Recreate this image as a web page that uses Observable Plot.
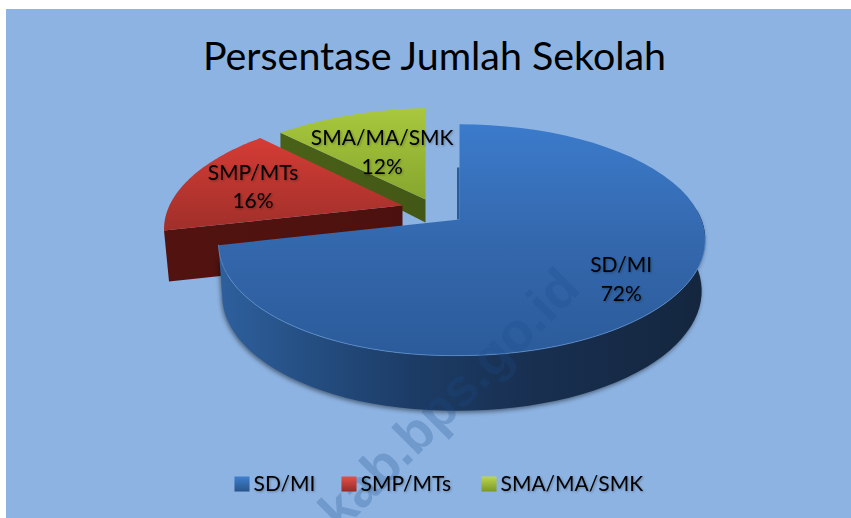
<!DOCTYPE html>
<html>
<head>
<meta charset="utf-8">
<script src="https://cdn.jsdelivr.net/npm/d3@7"></script>
<script src="https://cdn.jsdelivr.net/npm/@observablehq/plot@0.6"></script>
<style>
html,body{margin:0;padding:0;background:#fff}
svg{display:block}
.lab text{filter:drop-shadow(1px 1px 1px rgba(0,0,0,.3))}
.pie{filter:blur(.4px)}
.wall{filter:drop-shadow(-1px 2px 2px rgba(0,0,0,.45))}
</style>
</head>
<body>
<script>
// Data
const categories = ["SD/MI", "SMP/MTs", "SMA/MA/SMK"];
const values = [72, 16, 12];
const titleText = "Persentase Jumlah Sekolah";
const watermarkText = "kab.bps.go.id";

// Layout (pixels)
const W = 851, H = 518;
const apex = [[459, 219], [402, 205], [425, 199]];
const scaleBy = [1, 0.97, 0.96];
const leftX = [0.98, 1, 1.03];
const labelR = [0.79, 0.695, 0.535];
const labelDy = [-4, -1, -1];
const wallH = [55, 51, 23];
const persp = 0.177, radX = 242, radY = 112, shear = 4;

const arcs = d3.pie().sort(null).value(d => d)(values);
const proj = (i, a, r = 1) => {
  const u = Math.sin(a) * r, v = Math.cos(a) * r, den = 1 + persp * v, s = scaleBy[i];
  const left = u < 0 ? -u : 0;
  return [apex[i][0] + s * radX * u / den * (u < 0 ? leftX[i] : 1), apex[i][1] - s * radY * v / den + shear * left];
};
const steps = (a0, a1) => d3.range(0, 61).map(k => a0 + (a1 - a0) * k / 60);
const poly = (id, pts) => pts.map(p => ({id, x: p[0], y: p[1]}));

// Top faces
const face = i => [apex[i], ...steps(arcs[i].startAngle, arcs[i].endAngle).map(a => proj(i, a)), apex[i]];

// Blue outer wall
const drop = (p, i) => {
  const dy = wallH[i] - 8 * (1 - (p[1] - 124) / 230);
  return [apex[i][0] + (p[0] - apex[i][0]) * 0.985, p[1] + dy];
};
const wallTop = steps(Math.PI * 0.47, arcs[0].endAngle).map(a => proj(0, a));
const blueWall = [...wallTop, ...wallTop.slice().reverse().map(p => drop(p, 0))];
const rim = steps(Math.PI * 0.55, arcs[0].endAngle).map(a => proj(0, a));

// Cut faces of the two pulled-out slices
const redA = proj(1, arcs[1].startAngle);
const redWall = [redA, apex[1], [apex[1][0], apex[1][1] + wallH[1]], [redA[0] + 5, redA[1] + wallH[1]]];
const greenA = proj(2, arcs[2].startAngle);
const greenWall = [greenA, apex[2], [apex[2][0], apex[2][1] + wallH[2]], [greenA[0], greenA[1] + 16]];
const blueInner = [apex[0], [apex[0][0] - 2.5, apex[0][1]], [apex[0][0] - 2.5, apex[0][1] - 52], [apex[0][0], apex[0][1] - 52]];

const labels = categories.map((c, i) => {
  const m = (arcs[i].startAngle + arcs[i].endAngle) / 2;
  const p = proj(i, m, labelR[i]);
  return {text: `${c}\n${values[i]}%`, x: p[0], y: p[1] + labelDy[i]};
});

const legendBox = [241.5, 348.5, 488.5];
const legendText = [253, 360, 500];
const legendY = 483.5;

const topFill = ["url(#bt)", "url(#rt)", "url(#gt)"];
const legendFill = ["url(#lb)", "url(#lr)", "url(#lg)"];
const defs = () => {
  const g = document.createElementNS("http://www.w3.org/2000/svg", "g");
  const lin = (id, x2, y2, stops) => `<linearGradient id="${id}" x1="0" y1="0" x2="${x2}" y2="${y2}">` +
    stops.map(s => `<stop offset="${s[0]}" stop-color="${s[1]}"/>`).join("") + `</linearGradient>`;
  g.innerHTML = "<defs>" +
    lin("bt", 0, 1, [[0, "#3b7bcb"], [0.5, "#3468ad"], [1, "#2b5b9a"]]) +
    lin("rt", 0, 1, [[0, "#d53c35"], [1, "#a02f2a"]]) +
    lin("gt", 0, 1, [[0, "#a9c83e"], [1, "#86a62e"]]) +
    lin("bw", 1, 0, [[0, "#2e609e"], [0.2, "#244d80"], [0.4, "#1c3c66"], [0.65, "#182f50"], [1, "#14263e"]]) +
    lin("rw", 1, 0, [[0, "#521310"], [1, "#4c110e"]]) +
    lin("gw", 1, 0, [[0, "#4a6118"], [1, "#435716"]]) +
    lin("lb", 0, 1, [[0, "#3f80cf"], [1, "#285589"]]) +
    lin("lr", 0, 1, [[0, "#e2504a"], [1, "#962b26"]]) +
    lin("lg", 0, 1, [[0, "#bcd84c"], [1, "#7a9729"]]) +
    "</defs>";
  return g;
};
const shape = (pts, fill, o = {}) => Plot.line(poly("s", pts), {x: "x", y: "y", fill, stroke: "none", curve: "linear", className: "pie", ...o});

const chart = Plot.plot({
  width: W, height: H, margin: 0,
  style: {background: "#fff"},
  x: {domain: [0, W], range: [0, W], axis: null},
  y: {domain: [0, H], range: [0, H], axis: null},
  color: {type: "identity"},
  marks: [
    defs,
    Plot.rect([0], {x1: () => 6, x2: () => W, y1: () => 9, y2: () => H, fill: "#8db3e2"}),
    shape(greenWall, "url(#gw)"),
    shape(face(2), topFill[2]),
    shape(redWall, "url(#rw)"),
    shape(face(1), topFill[1]),
    shape(blueInner, "#2c5c98"),
    shape(blueWall, "url(#bw)", {className: "wall"}),
    shape(face(0), topFill[0]),
    Plot.line(poly("r", rim), {x: "x", y: "y", stroke: "#6494d0", strokeWidth: 1, strokeOpacity: 0.75, curve: "linear", className: "pie"}),
    Plot.text([watermarkText], {x: () => 449, y: () => 399, text: d => d, rotate: -45, fontSize: 53, fontWeight: 700,
      fontFamily: "Liberation Sans", fill: "#1a4a8a", fillOpacity: 0.25}),
    Plot.text([titleText], {x: () => 434, y: () => 57, text: d => d, fontSize: 39.4, fontFamily: "Lato", fill: "#000", textAnchor: "middle"}),
    Plot.text(labels, {x: "x", y: "y", text: "text", fontSize: 21, lineHeight: 1.36, fontFamily: "Lato", fill: "#000", className: "lab"}),
    Plot.dot(categories, {x: (d, i) => legendBox[i], y: () => legendY, symbol: "square", r: 8.5, stroke: "none",
      fill: (d, i) => legendFill[i]}),
    Plot.text(categories, {x: (d, i) => legendText[i], y: () => legendY, text: d => d, textAnchor: "start", fontSize: 21, fontFamily: "Lato", fill: "#000", className: "lab"})
  ]
});
document.body.appendChild(chart);
</script>
</body>
</html>
